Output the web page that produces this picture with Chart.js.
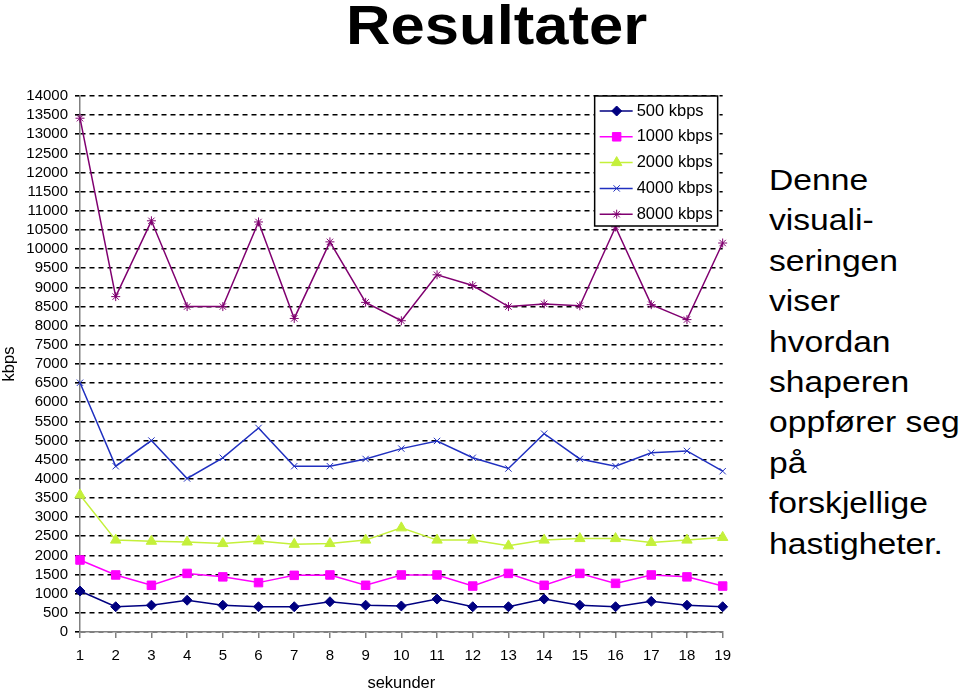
<!DOCTYPE html>
<html>
<head>
<meta charset="utf-8">
<script src="https://cdn.jsdelivr.net/npm/chart.js@4.4.0/dist/chart.umd.min.js"></script>
<style>
  html, body { margin: 0; padding: 0; background: #fff; }
  body { width: 960px; height: 690px; overflow: hidden; position: relative; font-family: "Liberation Sans", Arial, sans-serif; }
  #title { position: absolute; left: 346px; top: -3px; font-size: 56px; font-weight: bold; line-height: 1; white-space: nowrap; transform: scaleX(1.1); transform-origin: left top; }
  #note { position: absolute; left: 769px; top: 160px; font-size: 29px; line-height: 40.4px; white-space: nowrap; transform: scaleX(1.16); transform-origin: left top; }
  #chart { position: absolute; left: 0; top: 80px; }
</style>
</head>
<body>
<div id="title">Resultater</div>
<canvas id="chart" width="740" height="612"></canvas>
<div id="note">Denne<br>visuali-<br>seringen<br>viser<br>hvordan<br>shaperen<br>oppfører seg<br>på<br>forskjellige<br>hastigheter.</div>
<script>
// seconds on the x axis
const seconds = ["1", "2", "3", "4", "5", "6", "7", "8", "9", "10", "11", "12", "13", "14", "15", "16", "17", "18", "19"];

// measured throughput (kbps) for each shaper setting
const kbps500 = [1070, 660, 700, 830, 700, 660, 660, 790, 700, 680, 860, 660, 660, 860, 700, 660, 800, 700, 660];
const kbps1000 = [1880, 1490, 1220, 1530, 1440, 1290, 1480, 1490, 1220, 1490, 1490, 1200, 1530, 1220, 1530, 1270, 1490, 1440, 1200];
const kbps2000 = [3580, 2400, 2370, 2350, 2310, 2380, 2290, 2310, 2400, 2720, 2400, 2400, 2250, 2400, 2440, 2440, 2340, 2400, 2470];
const kbps4000 = [6510, 4330, 5000, 4010, 4550, 5330, 4330, 4330, 4520, 4790, 4990, 4550, 4270, 5180, 4520, 4330, 4680, 4730, 4200];
const kbps8000 = [13420, 8760, 10740, 8500, 8500, 10710, 8190, 10190, 8610, 8130, 9330, 9050, 8500, 8570, 8520, 10580, 8550, 8160, 10160];

const seriesLabels = ["500 kbps", "1000 kbps", "2000 kbps", "4000 kbps", "8000 kbps"];

const FONT = '"Liberation Sans", Arial, sans-serif';

function makeSeries(label, data, color, style, radius) {
  return {
    label: label,
    data: data,
    borderColor: color,
    backgroundColor: color,
    pointBackgroundColor: color,
    pointBorderColor: color,
    borderWidth: 1.5,
    pointStyle: style,
    pointRadius: radius,
    pointBorderWidth: 1,
    tension: 0
  };
}

// legend box drawn inside the plot, like the original
const legendBox = {
  id: "legendBox",
  afterDraw(chart) {
    const ctx = chart.ctx;
    const area = chart.chartArea;
    const w = 123, h = 130;
    const x0 = area.right - 128, y0 = area.top;
    ctx.save();
    ctx.fillStyle = "#fff";
    ctx.fillRect(x0, y0, w, h);
    ctx.strokeStyle = "#000";
    ctx.lineWidth = 1.5;
    ctx.strokeRect(x0, y0, w, h);
    ctx.font = "16.5px " + FONT;
    ctx.textBaseline = "middle";
    chart.data.datasets.forEach((ds, i) => {
      const y = y0 + 15 + i * 25.8;
      ctx.strokeStyle = ds.borderColor;
      ctx.lineWidth = ds.borderWidth;
      ctx.beginPath();
      ctx.moveTo(x0 + 5, y);
      ctx.lineTo(x0 + 38, y);
      ctx.stroke();
      ctx.fillStyle = ds.backgroundColor;
      ctx.lineWidth = 1;
      if (Chart.helpers && Chart.helpers.drawPoint) {
        Chart.helpers.drawPoint(ctx, { pointStyle: ds.pointStyle, radius: ds.pointRadius, borderWidth: 1, rotation: 0 }, x0 + 22, y);
      }
      ctx.fillStyle = "#000";
      ctx.fillText(ds.label, x0 + 42, y);
    });
    ctx.restore();
  }
};

new Chart(document.getElementById("chart"), {
  type: "line",
  data: {
    labels: seconds,
    datasets: [
      makeSeries(seriesLabels[0], kbps500, "#000080", "rectRot", 5),
      makeSeries(seriesLabels[1], kbps1000, "#ff00ff", "rect", 6),
      makeSeries(seriesLabels[2], kbps2000, "#c4f03a", "triangle", 6),
      makeSeries(seriesLabels[3], kbps4000, "#2030c0", "crossRot", 4.5),
      makeSeries(seriesLabels[4], kbps8000, "#800070", "star", 4.5)
    ]
  },
  options: {
    responsive: false,
    devicePixelRatio: 1,
    animation: false,
    layout: { padding: { top: 15, right: 17, left: 0, bottom: 0 } },
    plugins: {
      legend: { display: false },
      tooltip: { enabled: false }
    },
    scales: {
      x: {
        type: "category",
        offset: false,
        afterFit: (s) => { s.height = 60; },
        grid: { drawOnChartArea: false, drawTicks: true, tickLength: 6, color: "#808080", lineWidth: 1.5 },
        border: { color: "#808080", width: 1.5 },
        ticks: { color: "#000", padding: 9, autoSkip: false, maxRotation: 0, font: { family: FONT, size: 15 } },
        title: { display: true, text: "sekunder", color: "#000", padding: { top: 0, bottom: 0 }, font: { family: FONT, size: 16.5, lineHeight: 1 } }
      },
      y: {
        min: 0,
        max: 14000,
        afterFit: (s) => { s.width = 80; },
        grid: { color: "#000", lineWidth: 1.6, tickLength: 5 },
        border: { color: "#808080", width: 1.5, dash: [5, 4] },
        ticks: {
          stepSize: 500,
          maxTicksLimit: 40,
          autoSkip: false,
          color: "#000",
          padding: 7,
          font: { family: FONT, size: 15 },
          callback: (v) => String(v)
        },
        title: { display: true, text: "kbps", color: "#000", padding: { top: 0, bottom: 0 }, font: { family: FONT, size: 16.5 } }
      }
    }
  },
  plugins: [legendBox]
});
</script>
</body>
</html>
